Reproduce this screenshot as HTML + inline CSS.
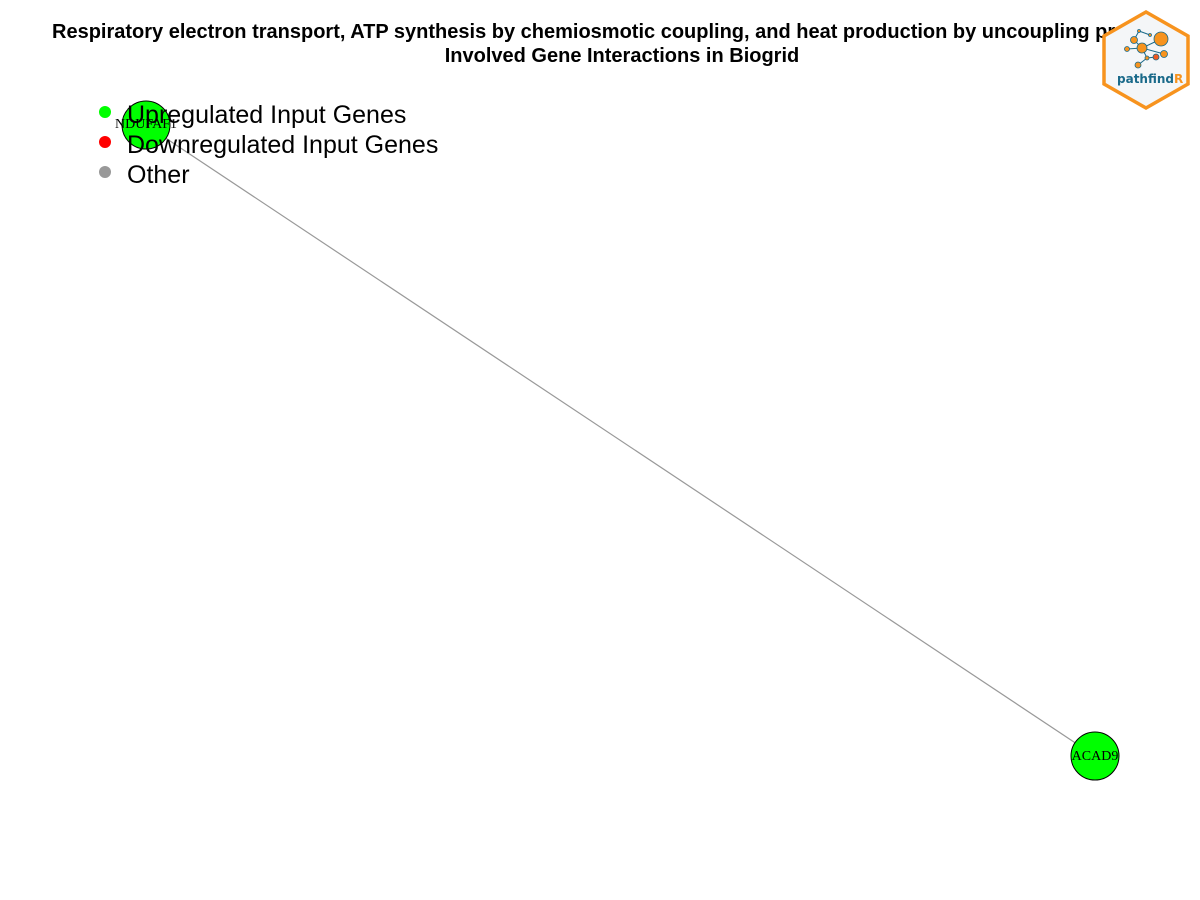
<!DOCTYPE html>
<html><head><meta charset="utf-8"><style>
html,body{margin:0;padding:0;background:#fff;}
svg{display:block;}
</style></head><body>
<svg width="1200" height="900" xmlns="http://www.w3.org/2000/svg">
<rect width="1200" height="900" fill="#fff"/>
<text x="52" y="38" font-family="Liberation Sans, sans-serif" font-weight="bold" font-size="20" fill="#000">Respiratory electron transport, ATP synthesis by chemiosmotic coupling, and heat production by uncoupling proteins.</text>
<text x="622" y="62" text-anchor="middle" font-family="Liberation Sans, sans-serif" font-weight="bold" font-size="20" fill="#000">Involved Gene Interactions in Biogrid</text>
<line x1="146" y1="125" x2="1095" y2="756" stroke="#999" stroke-width="1.2"/>
<circle cx="146" cy="125" r="24" fill="#00ff00" stroke="#000" stroke-width="1"/>
<text x="146" y="128" text-anchor="middle" font-family="Liberation Serif, serif" font-size="14" fill="#000">NDUFAF1</text>
<circle cx="1095" cy="756" r="24" fill="#00ff00" stroke="#000" stroke-width="1"/>
<text x="1095" y="760" text-anchor="middle" font-family="Liberation Serif, serif" font-size="14" fill="#000">ACAD9</text>
<circle cx="105" cy="112" r="6" fill="#00ff00"/>
<circle cx="105" cy="142" r="6" fill="#ff0000"/>
<circle cx="105" cy="172" r="6" fill="#999"/>
<g font-family="Liberation Sans, sans-serif" font-size="25" fill="#000">
<text x="127" y="123">Upregulated Input Genes</text>
<text x="127" y="153">Downregulated Input Genes</text>
<text x="127" y="183">Other</text>
</g>
<polygon points="1146,12 1188,36 1188,84 1146,108 1104,84 1104,36" fill="#f4f6f8" stroke="#f7931e" stroke-width="3.5"/>
<g stroke="#1a6a8a" stroke-width="1">
<line x1="1142" y1="48" x2="1161" y2="39"/><line x1="1142" y1="48" x2="1134" y2="40"/>
<line x1="1142" y1="48" x2="1127" y2="49"/><line x1="1142" y1="48" x2="1164" y2="54"/>
<line x1="1142" y1="48" x2="1147" y2="58"/><line x1="1147" y1="58" x2="1138" y2="65"/>
<line x1="1134" y1="40" x2="1139" y2="31"/><line x1="1139" y1="31" x2="1150" y2="35"/>
<line x1="1147" y1="58" x2="1156" y2="57"/>
</g>
<g fill="#f7931e" stroke="#1a6a8a" stroke-width="0.8">
<circle cx="1161" cy="39" r="7"/><circle cx="1142" cy="48" r="5"/>
<circle cx="1134" cy="40" r="3.5"/><circle cx="1127" cy="49" r="2.5"/>
<circle cx="1164" cy="54" r="3.5"/><circle cx="1147" cy="58" r="2"/>
<circle cx="1138" cy="65" r="3"/><circle cx="1139" cy="31" r="1.5"/>
<circle cx="1150" cy="35" r="1.5"/><circle cx="1156" cy="57" r="3" fill="#f05a22"/>
</g>
<text x="1117" y="83" font-family="DejaVu Sans, sans-serif" font-weight="bold" font-size="12" fill="#1a6a8a">pathfind<tspan fill="#f7931e">R</tspan></text>
</svg>
</body></html>
